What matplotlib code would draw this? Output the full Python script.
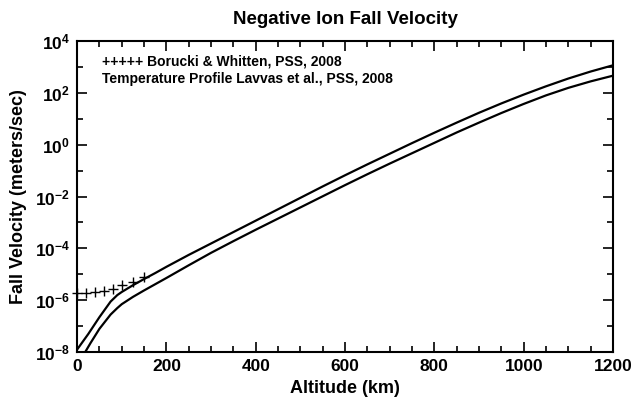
import numpy as np
import matplotlib
matplotlib.use("Agg")
import matplotlib.pyplot as plt
from matplotlib.ticker import FixedLocator, NullFormatter

plt.rcParams['font.family'] = ['Liberation Sans', 'DejaVu Sans']
plt.rcParams['mathtext.default'] = 'regular'

# Upper curve (log10 of velocity, m/s) vs altitude (km)
alt_upper = [0, 25, 50, 75, 90, 100, 125, 150, 175, 200, 250, 300, 350, 400, 450, 500,
             550, 600, 650, 700, 750, 800, 850, 900, 950, 1000, 1050, 1100, 1150, 1200]
logv_upper = [-7.9, -7.3, -6.65, -6.05, -5.8, -5.68, -5.42, -5.18, -4.95, -4.71, -4.25, -3.81,
              -3.37, -2.93, -2.49, -2.05, -1.61, -1.18, -0.76, -0.35, 0.06, 0.46, 0.85, 1.23,
              1.59, 1.93, 2.25, 2.55, 2.82, 3.06]

# Lower curve
alt_lower = [18, 30, 50, 75, 90, 100, 125, 150, 175, 200, 250, 300, 350, 400, 450, 500,
             550, 600, 650, 700, 750, 800, 850, 900, 950, 1000, 1050, 1100, 1150, 1200]
logv_lower = [-8.0, -7.65, -7.1, -6.55, -6.3, -6.15, -5.87, -5.62, -5.38, -5.14, -4.65, -4.17,
              -3.72, -3.28, -2.85, -2.42, -1.99, -1.56, -1.14, -0.73, -0.33, 0.07, 0.47, 0.85,
              1.22, 1.57, 1.9, 2.19, 2.44, 2.66]

# Borucki & Whitten points
alt_bw = [0, 20, 40, 60, 80, 100, 125, 150]
logv_bw = [-5.72, -5.72, -5.69, -5.65, -5.55, -5.43, -5.3, -5.12]

fig = plt.figure(figsize=(6.32, 4.09), dpi=100)
ax = fig.add_axes([0.122, 0.139, 0.848, 0.761])

ax.plot(alt_upper, 10 ** np.array(logv_upper), color='black', lw=1.6)
ax.plot(alt_lower, 10 ** np.array(logv_lower), color='black', lw=1.6)
ax.plot(alt_bw, 10 ** np.array(logv_bw), linestyle='none', marker='+',
        color='black', ms=7, mew=1.0, clip_on=False)

ax.set_yscale('log')
ax.set_xlim(0, 1200)
ax.set_ylim(1e-8, 1e4)

major_y = [10.0 ** e for e in range(-8, 5, 2)]
minor_y = [10.0 ** e for e in range(-7, 4, 2)]
ax.yaxis.set_major_locator(FixedLocator(major_y))
ax.yaxis.set_minor_locator(FixedLocator(minor_y))
ax.yaxis.set_minor_formatter(NullFormatter())
ax.set_yticklabels([r'$10^{%d}$' % e for e in range(-8, 5, 2)])

ax.xaxis.set_major_locator(FixedLocator(list(range(0, 1201, 200))))
ax.xaxis.set_minor_locator(FixedLocator(list(range(0, 1201, 50))))

ax.tick_params(which='both', direction='in', top=True, right=True, width=1.2)
ax.tick_params(which='major', length=7, labelsize=12.5, pad=5)
ax.tick_params(which='minor', length=4)
for lab in ax.get_xticklabels() + ax.get_yticklabels():
    lab.set_fontweight('bold')

for s in ax.spines.values():
    s.set_linewidth(1.5)

ax.set_xlabel('Altitude (km)', fontsize=13, fontweight='bold', labelpad=4)
ax.set_ylabel('Fall Velocity (meters/sec)', fontsize=13, fontweight='bold', labelpad=6)
ax.set_title('Negative Ion Fall Velocity', fontsize=13.5, fontweight='bold', pad=12)

ax.text(0.047, 0.935, '+++++ Borucki & Whitten, PSS, 2008', transform=ax.transAxes,
        fontsize=10, fontweight='bold', va='center', ha='left')
ax.text(0.047, 0.877, 'Temperature Profile Lavvas et al., PSS, 2008', transform=ax.transAxes,
        fontsize=10, fontweight='bold', va='center', ha='left')

fig.savefig('out.png', dpi=100)
